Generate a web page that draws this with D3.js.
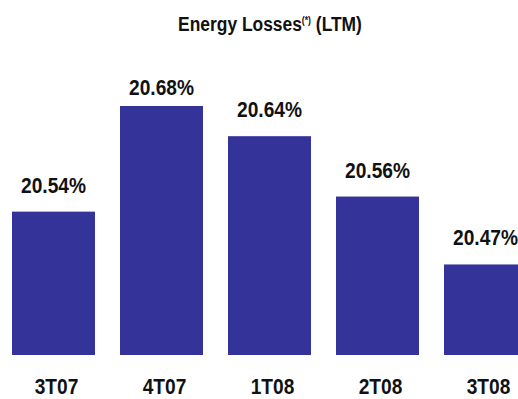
<!DOCTYPE html>
<html>
<head>
<meta charset="utf-8">
<script src="https://cdn.jsdelivr.net/npm/d3@7"></script>
<style>
  html, body { margin: 0; padding: 0; background: #ffffff; }
  svg { display: block; }
  text { font-family: "Liberation Sans", Arial, Helvetica, sans-serif; font-weight: bold; fill: #111111; }
</style>
</head>
<body>
<svg id="chart" width="518" height="399"></svg>
<script>
const categories = ["3T07", "4T07", "1T08", "2T08", "3T08"];
const values = [20.54, 20.68, 20.64, 20.56, 20.47];
const valueLabels = ["20.54%", "20.68%", "20.64%", "20.56%", "20.47%"];
const titleMain = "Energy Losses";
const titleSup = "(*)";
const titleTail = " (LTM)";

const W = 518, H = 399;
const svg = d3.select("#chart");
const squeeze = 0.87;

const x = d3.scaleBand()
  .domain(categories)
  .range([-0.5, 539.5])
  .paddingInner(25 / 108)
  .paddingOuter(12.5 / 108);

const y = d3.scaleLinear()
  .domain([20.35, 20.68])
  .range([355, 106]);

const data = categories.map((c, i) => ({ cat: c, v: values[i], label: valueLabels[i] }));

// bars
svg.append("g").selectAll("rect")
  .data(data)
  .join("rect")
  .attr("x", d => x(d.cat))
  .attr("y", d => y(d.v))
  .attr("width", x.bandwidth())
  .attr("height", d => y.range()[0] - y(d.v))
  .attr("fill", "#333399");

// value labels
svg.append("g").selectAll("text")
  .data(data)
  .join("text")
  .attr("transform", d => `translate(${x(d.cat) + x.bandwidth() / 2},${Math.max(y(d.v) - 19, 95)}) scale(${squeeze},1)`)
  .attr("text-anchor", "middle")
  .style("font-size", "22px")
  .text(d => d.label);

// category axis labels
const xAxis = d3.axisBottom(x).tickSize(0).tickPadding(0);
const gx = svg.append("g").attr("transform", "translate(3,0)").call(xAxis);
gx.select(".domain").remove();
gx.selectAll(".tick text")
  .attr("y", null).attr("dy", null)
  .attr("transform", `translate(0,394) scale(${squeeze},1)`)
  .attr("fill", "#111111")
  .style("font-size", "22px")
  .style("font-family", "'Liberation Sans', Arial, sans-serif")
  .style("font-weight", "bold");

// title
const t = svg.append("text")
  .attr("transform", `translate(270,31) scale(${squeeze},1)`)
  .attr("text-anchor", "middle")
  .style("font-size", "20px");
t.append("tspan").text(titleMain);
t.append("tspan").text(titleSup).style("font-size", "10px").attr("dy", -7);
t.append("tspan").text(titleTail).attr("dy", 7);
</script>
</body>
</html>
